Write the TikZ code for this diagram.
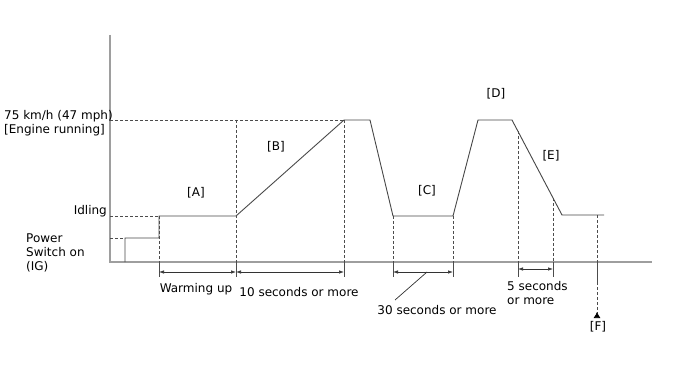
\documentclass[tikz,border=0pt]{standalone}
\usepackage{fontspec}
\setmainfont{DejaVu Sans}
\usetikzlibrary{arrows.meta,calc}

\begin{document}
\begin{tikzpicture}[x=1pt,y=-1pt,
		axis/.style={draw=black!38,line width=1.4pt},
		speed/.style={draw=black!72,line width=0.9pt},
		guide/.style={draw=black!70,dash pattern=on 3pt off 2pt,line width=0.7pt},
		dimtick/.style={draw=black!70,line width=0.9pt},
		span/.style={draw=black!80,line width=0.7pt,{Latex[length=5pt,width=3.5pt]}-{Latex[length=5pt,width=3.5pt]}},
		leader/.style={draw=black!80,line width=0.7pt},
		lbl/.style={font=\fontsize{12}{14}\selectfont,inner sep=0pt}]

\useasboundingbox (0,0) rectangle (688,366);

% axes
\coordinate (ytop) at (110,35);
\coordinate (o) at (110,262);
\coordinate (xend) at (652,262);
\draw[axis] (ytop) -- (o) -- (xend);

% speed profile
\coordinate (p0) at (125,262);
\coordinate (p1) at (125,238);
\coordinate (p2) at (159,238);
\coordinate (p3) at (159,216);
\coordinate (p4) at (236,216);
\coordinate (p5) at (344,120);
\coordinate (p6) at (370,120);
\coordinate (p7) at (393,216);
\coordinate (p8) at (453,216);
\coordinate (p9) at (478,120);
\coordinate (p10) at (512,120);
\coordinate (p11) at (562,215);
\coordinate (p12) at (604,215);
\draw[speed] (p0) -- (p1) -- (p2) -- (p3) -- (p4) -- (p5) -- (p6) -- (p7)
	-- (p8) -- (p9) -- (p10) -- (p11) -- (p12);

% levels
\coordinate (v75) at (110,120);
\coordinate (vidle) at (110,216);
\coordinate (vpow) at (110,238);
\coordinate (g2) at (236,120);
\coordinate (e1) at ($(p10)!0.12!(p11)$);
\coordinate (e2) at ($(p10)!0.82!(p11)$);
\coordinate (f0) at (597,215);
\draw[guide] (v75) -- (p5);
\draw[guide] (vidle) -- (p3);
\draw[guide] (vpow) -- (p1);

% ticks under the axis
\foreach \x/\n/\len in {159/a1/277, 236/a2/277, 344/a3/277, 393/a4/277,
		453/a5/277, 518/a6/277, 553/a7/277, 597/a8/282}{
	\coordinate (\n) at (\x,262);
	\coordinate (\n b) at (\x,\len);
	\draw[dimtick] (\n) -- (\n b);
}
\draw[guide] (p3) -- (a1);
\draw[guide] (g2) -- (a2);
\draw[guide] (p5) -- (a3);
\draw[guide] (p7) -- (a4);
\draw[guide] (p8) -- (a5);
\draw[guide] (e1) -- (e1 |- a6);
\draw[guide] (e2) -- (e2 |- a7);
\draw[guide] (f0) -- (a8);

% spans
\draw[span] (159,272) -- (236,272);
\draw[span] (236,272) -- (344,272);
\draw[span] (393,272) -- (453,272);
\draw[span] (518,269) -- (553,269);
\coordinate (lead) at (427,272);
\coordinate (fbot) at (597,318);
\draw[guide,-{Latex[reversed,length=6pt,width=7pt,color=black,fill=black]}] (a8b) -- (fbot);

% labels
\node[lbl,anchor=west,align=left] (top) at (4,123) {75 km/h (47 mph)\\{}[Engine running]};
\node[lbl,anchor=east] (idle) at (107,211) {Idling};
\node[lbl,anchor=west,align=left] (pow) at (26,253) {Power\\Switch on\\(IG)};
\node[lbl] (la) at (196,193) {[A]};
\node[lbl] (lb) at (276,147) {[B]};
\node[lbl] (lc) at (427,191) {[C]};
\node[lbl] (ld) at (496,94) {[D]};
\node[lbl] (le) at (551,156) {[E]};
\node[lbl] (lf) at (598,327) {[F]};
\node[lbl] (warm) at (196,289) {Warming up};
\node[lbl] (ten) at (299,292) {10 seconds or more};
\node[lbl] (thirty) at (437,310) {30 seconds or more};
\node[lbl,anchor=west,align=left] (five) at (507,293) {5 seconds\\or more};
\coordinate (leadend) at (395,300);
\draw[leader] (lead) -- (leadend);
\end{tikzpicture}
\end{document}
